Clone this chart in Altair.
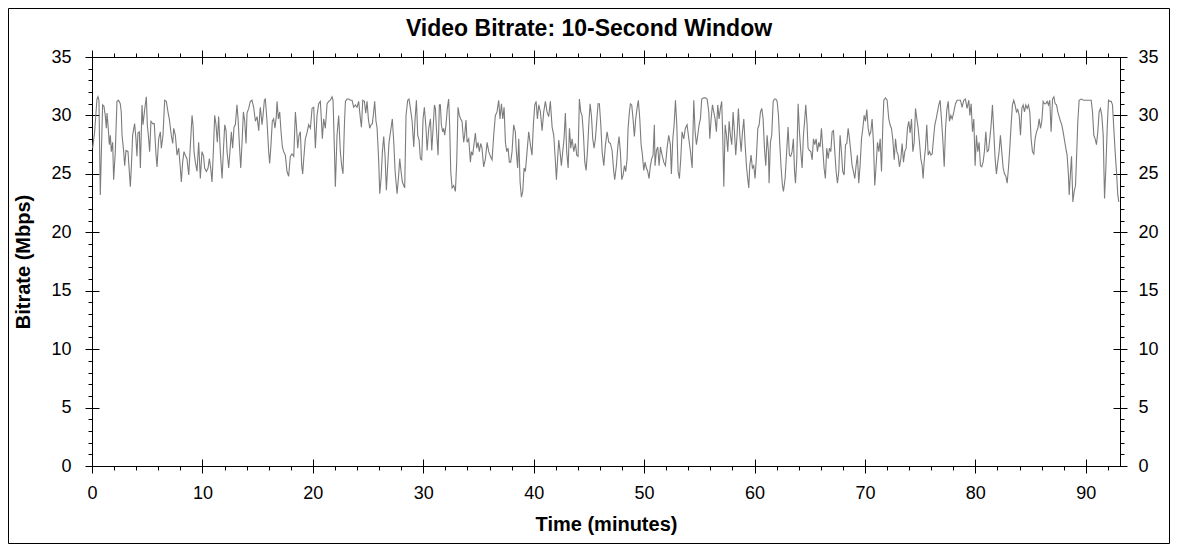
import altair as alt
import pandas as pd

# 10-second window video bitrate (time in minutes, rate in Mbps)
t_a = [0.06, 0.24, 0.45, 0.54, 0.63, 0.75, 0.96, 1.08, 1.20, 1.30,
       1.36, 1.45, 1.57, 1.66, 1.75, 1.87, 1.96, 2.11, 2.26, 2.41,
       2.56, 2.65, 2.72, 2.87, 2.96, 3.08, 3.26, 3.38, 3.47, 3.56,
       3.68, 3.86, 3.98, 4.07, 4.16, 4.29, 4.38, 4.53, 4.62, 4.77,
       4.92, 5.01, 5.13, 5.22, 5.34, 5.49, 5.64, 5.80, 5.89, 6.04,
       6.19, 6.28, 6.43, 6.58, 6.73, 6.88, 7.00, 7.18, 7.31, 7.40,
       7.55, 7.70, 7.85, 8.00, 8.09, 8.21, 8.33, 8.45, 8.60, 8.76,
       8.91, 9.06, 9.15, 9.24, 9.36, 9.51, 9.66, 9.81, 9.96, 10.11,
       10.20, 10.36, 10.51, 10.63, 10.75, 10.87, 10.99, 11.11, 11.23, 11.35,
       11.47, 11.62, 11.78, 11.90, 12.02, 12.14, 12.23, 12.38, 12.47, 12.62,
       12.74, 12.86, 12.98, 13.13, 13.23, 13.35, 13.47, 13.59, 13.71, 13.83,
       13.95, 14.04, 14.19, 14.34, 14.49, 14.64, 14.80, 14.95, 15.10, 15.22]
v_a = [27.2, 28.6, 31.4, 31.6, 31.3, 23.2, 30.9, 30.8, 30.0, 28.9,
       30.2, 29.2, 27.5, 28.3, 26.9, 27.7, 24.5, 26.9, 31.2, 31.3,
       31.0, 30.3, 28.3, 26.9, 25.7, 27.0, 26.9, 25.2, 23.9, 25.5,
       28.3, 29.3, 28.0, 26.5, 28.5, 28.6, 25.5, 30.9, 29.2, 30.5,
       31.6, 29.2, 28.0, 26.9, 29.5, 29.3, 29.3, 26.6, 25.6, 28.0,
       28.6, 27.2, 28.3, 31.3, 31.2, 30.3, 29.7, 28.3, 27.6, 28.9,
       28.3, 26.6, 27.2, 25.5, 24.3, 26.0, 26.9, 26.6, 26.3, 24.9,
       27.5, 30.0, 29.2, 26.9, 26.0, 25.2, 27.7, 24.6, 26.9, 26.5,
       25.5, 25.2, 25.5, 26.3, 25.5, 24.3, 26.9, 30.0, 29.2, 27.7,
       29.9, 26.9, 24.6, 27.0, 29.2, 28.7, 26.9, 25.5, 26.6, 28.6,
       27.2, 29.0, 29.2, 30.9, 29.7, 27.5, 25.5, 27.7, 30.3, 29.5,
       27.6, 30.2, 30.6, 31.2, 31.3, 30.7, 29.5, 29.9, 28.7, 30.5]

t_b = [15.25, 15.40, 15.49, 15.61, 15.70, 15.85, 16.00, 16.09, 16.21, 16.33,
       16.45, 16.57, 16.69, 16.76, 16.88, 17.00, 17.12, 17.24, 17.36, 17.51,
       17.66, 17.81, 17.96, 18.11, 18.27, 18.42, 18.51, 18.63, 18.75, 18.87,
       18.99, 19.08, 19.17, 19.32, 19.47, 19.62, 19.78, 19.93, 20.08, 20.23,
       20.38, 20.53, 20.68, 20.77, 20.86, 20.98, 21.13, 21.29, 21.44, 21.59,
       21.74, 21.83, 21.95, 22.04, 22.19, 22.34, 22.49, 22.61, 22.73, 22.86,
       22.95, 23.10, 23.25, 23.40, 23.55, 23.70, 23.85, 24.00, 24.15, 24.31,
       24.40, 24.52, 24.67, 24.79, 24.91, 25.03, 25.15, 25.27, 25.39, 25.51,
       25.60, 25.72, 25.82, 25.97, 26.06, 26.18, 26.30, 26.42, 26.54, 26.66,
       26.78, 26.90, 27.08, 27.20, 27.33, 27.45, 27.63, 27.75, 27.87, 27.99,
       28.11, 28.23, 28.32, 28.44, 28.59, 28.71, 28.84, 28.99, 29.14, 29.26,
       29.38, 29.50, 29.62, 29.74, 29.86, 29.98, 30.10, 30.25, 30.35, 30.50,
       30.65, 30.77, 30.89, 31.01]
v_b = [30.7, 29.2, 30.0, 31.3, 31.4, 29.5, 26.9, 25.9, 27.5, 29.5,
       29.7, 28.9, 29.9, 31.2, 29.7, 30.3, 28.6, 27.3, 26.9, 26.6,
       25.2, 24.8, 26.5, 26.7, 26.5, 30.3, 29.2, 27.2, 28.3, 28.6,
       25.7, 25.0, 26.2, 28.0, 28.5, 29.2, 28.9, 30.6, 30.7, 27.2,
       30.0, 31.0, 31.2, 29.7, 28.0, 29.7, 28.9, 31.0, 31.2, 31.3,
       31.6, 31.3, 27.2, 23.9, 28.3, 30.0, 26.9, 25.7, 25.0, 29.2,
       31.2, 31.4, 31.4, 31.3, 31.3, 30.7, 30.9, 30.7, 31.2, 29.7,
       29.0, 31.3, 31.2, 30.2, 31.2, 29.7, 28.9, 29.2, 29.3, 30.3,
       31.2, 29.5, 28.9, 26.0, 23.3, 24.6, 26.9, 28.2, 26.5, 23.6,
       25.7, 27.7, 28.9, 29.7, 27.7, 25.2, 23.3, 24.6, 26.3, 25.2,
       24.3, 24.0, 23.8, 30.0, 31.3, 31.4, 30.6, 29.5, 27.3, 29.7,
       31.3, 28.3, 27.9, 26.3, 26.2, 29.7, 30.7, 28.9, 27.0, 28.9,
       29.7, 27.0, 28.9, 30.9]

t_c = [31.10, 31.19, 31.34, 31.46, 31.55, 31.64, 31.76, 31.85, 31.94, 32.06,
       32.18, 32.30, 32.39, 32.49, 32.61, 32.76, 32.91, 33.03, 33.15, 33.27,
       33.39, 33.51, 33.66, 33.75, 33.87, 33.97, 34.12, 34.27, 34.36, 34.48,
       34.60, 34.72, 34.84, 34.96, 35.08, 35.20, 35.32, 35.47, 35.63, 35.78,
       35.93, 36.08, 36.23, 36.38, 36.53, 36.68, 36.83, 36.95, 37.08, 37.20,
       37.32, 37.44, 37.56, 37.68, 37.80, 37.92, 38.04, 38.19, 38.34, 38.43,
       38.55, 38.65, 38.77, 38.89, 39.01, 39.13, 39.25, 39.40, 39.55, 39.70,
       39.85, 39.97, 40.10, 40.22, 40.34, 40.46, 40.61, 40.76, 40.91, 41.06,
       41.21, 41.36, 41.51, 41.67, 41.82, 41.97, 42.06, 42.15, 42.27, 42.39,
       42.51, 42.63, 42.75, 42.87, 42.99, 43.12, 43.24, 43.36, 43.48, 43.63,
       43.78, 43.90, 44.02, 44.14, 44.26, 44.38, 44.50, 44.63, 44.75, 44.87,
       44.99, 45.11, 45.23, 45.35, 45.47, 45.59, 45.71, 45.83, 45.95, 46.08,
       46.20, 46.35, 46.50, 46.65, 46.80]
v_c = [30.6, 28.9, 26.6, 30.9, 30.9, 29.2, 28.6, 28.9, 28.3, 29.2,
       30.6, 31.4, 29.2, 25.2, 23.8, 24.0, 23.5, 26.0, 30.7, 30.0,
       29.7, 29.5, 27.7, 28.3, 29.6, 27.7, 28.0, 26.0, 26.9, 26.6,
       27.6, 28.5, 27.2, 27.7, 26.9, 27.6, 27.2, 25.6, 26.3, 27.7,
       26.9, 26.5, 26.2, 28.3, 30.0, 30.3, 31.3, 29.7, 31.0, 29.7,
       30.7, 27.7, 26.9, 27.2, 26.0, 26.0, 26.9, 29.2, 28.6, 26.9,
       25.5, 28.0, 24.3, 23.0, 23.5, 25.5, 25.2, 26.9, 28.6, 27.5,
       26.6, 29.2, 30.9, 31.2, 29.7, 30.9, 30.3, 28.7, 30.3, 31.2,
       30.3, 29.9, 31.2, 29.0, 28.3, 26.0, 24.5, 26.0, 27.9, 26.9,
       25.7, 26.9, 28.0, 30.2, 26.9, 25.5, 28.9, 27.2, 28.0, 26.9,
       27.6, 26.6, 26.5, 31.4, 30.3, 30.0, 28.5, 26.0, 25.3, 26.9,
       29.2, 31.0, 30.0, 28.0, 27.2, 28.0, 29.5, 31.0, 31.0, 29.2,
       26.9, 25.7, 27.5, 28.6, 27.7]

t_d = [46.95, 47.10, 47.25, 47.34, 47.49, 47.61, 47.73, 47.85, 47.98, 48.10,
       48.22, 48.34, 48.46, 48.55, 48.67, 48.76, 48.88, 49.00, 49.12, 49.24,
       49.36, 49.48, 49.61, 49.73, 49.85, 49.97, 50.09, 50.21, 50.33, 50.45,
       50.57, 50.69, 50.81, 50.93, 50.99, 51.12, 51.24, 51.36, 51.48, 51.63,
       51.78, 51.93, 52.08, 52.23, 52.38, 52.47, 52.60, 52.72, 52.84, 52.96,
       53.08, 53.20, 53.32, 53.44, 53.59, 53.74, 53.89, 54.05, 54.20, 54.35,
       54.50, 54.62, 54.74, 54.86, 54.98, 55.10, 55.22, 55.40, 55.55, 55.71,
       55.86, 55.95, 56.07, 56.19, 56.31, 56.43, 56.55, 56.67, 56.79, 56.91,
       57.03, 57.12, 57.22, 57.34, 57.46, 57.58, 57.70, 57.82, 57.94, 58.06,
       58.18, 58.30, 58.42, 58.54, 58.67, 58.79, 58.91, 59.03, 59.15, 59.27,
       59.36, 59.48, 59.57, 59.69, 59.81, 59.93, 60.05, 60.18, 60.30, 60.42,
       60.54, 60.66, 60.78, 60.90, 61.02, 61.14, 61.26, 61.32, 61.44, 61.56,
       61.69, 61.81, 61.93, 62.05, 62.17, 62.29, 62.41, 62.53, 62.62, 62.77]
v_d = [27.6, 27.0, 25.2, 24.5, 25.7, 27.2, 28.2, 26.9, 24.5, 24.9,
       25.7, 25.2, 26.3, 28.9, 30.3, 31.0, 30.9, 29.7, 28.2, 29.7,
       30.6, 31.3, 29.7, 27.5, 26.6, 25.3, 26.0, 25.5, 25.2, 24.6,
       25.7, 26.3, 26.6, 29.2, 25.7, 27.0, 27.3, 25.7, 27.3, 26.6,
       26.0, 25.7, 27.2, 28.3, 27.5, 25.0, 28.0, 29.2, 31.3, 29.2,
       25.2, 24.6, 26.3, 28.6, 28.0, 28.9, 29.2, 28.0, 26.9, 25.5,
       31.3, 28.6, 27.5, 28.3, 29.2, 29.7, 31.4, 31.5, 31.5, 31.4,
       30.3, 28.0, 29.7, 30.9, 30.3, 29.7, 28.6, 30.9, 29.7, 30.6,
       31.2, 28.3, 23.9, 29.2, 28.3, 26.9, 29.5, 28.3, 27.5, 30.3,
       28.6, 26.6, 28.3, 30.6, 28.3, 26.9, 28.6, 29.7, 27.5, 25.7,
       24.8, 23.8, 25.7, 26.6, 25.5, 25.7, 24.6, 26.6, 28.9, 29.2,
       30.3, 30.6, 29.7, 27.2, 25.7, 28.3, 26.9, 24.2, 27.7, 28.3,
       31.2, 31.4, 31.4, 31.2, 30.0, 27.5, 25.5, 24.0, 23.5, 24.6]

t_e = [63.04, 63.16, 63.28, 63.40, 63.52, 63.62, 63.71, 63.83, 63.95, 64.07,
       64.19, 64.31, 64.43, 64.55, 64.64, 64.76, 64.85, 64.97, 65.10, 65.22,
       65.34, 65.46, 65.58, 65.70, 65.82, 65.94, 66.06, 66.18, 66.30, 66.42,
       66.54, 66.67, 66.79, 66.91, 67.03, 67.15, 67.27, 67.39, 67.51, 67.63,
       67.75, 67.87, 67.99, 68.12, 68.24, 68.36, 68.48, 68.60, 68.72, 68.84,
       68.96, 69.08, 69.20, 69.32, 69.44, 69.56, 69.69, 69.81, 69.93, 70.05,
       70.17, 70.29, 70.41, 70.53, 70.65, 70.77, 70.89, 71.01, 71.14, 71.26,
       71.38, 71.50, 71.62, 71.71, 71.86, 72.01, 72.16, 72.28, 72.40, 72.52,
       72.65, 72.77, 72.89, 73.01, 73.13, 73.25, 73.37, 73.49, 73.61, 73.73,
       73.85, 73.97, 74.09, 74.22, 74.34, 74.46, 74.58, 74.70, 74.82, 74.94,
       75.06, 75.18, 75.27, 75.36, 75.48, 75.60, 75.73, 75.85, 75.97, 76.09,
       76.21, 76.33, 76.45, 76.57, 76.69, 76.81, 76.93, 77.05, 77.18, 77.30,
       77.42, 77.54, 77.66, 77.78, 77.90, 78.05, 78.20, 78.35, 78.50]
v_e = [29.0, 26.6, 26.5, 26.9, 28.0, 25.3, 24.2, 26.3, 31.0, 28.6,
       26.9, 25.5, 28.3, 29.7, 30.9, 29.2, 27.2, 27.0, 26.9, 26.2,
       28.0, 27.5, 28.0, 26.9, 27.7, 27.3, 28.9, 27.2, 25.5, 24.6,
       27.2, 26.3, 27.2, 26.9, 28.6, 28.7, 26.9, 25.2, 24.2, 25.2,
       28.3, 26.9, 25.2, 24.9, 27.5, 27.6, 28.9, 28.0, 26.9, 25.7,
       25.2, 24.6, 25.7, 26.6, 24.2, 25.7, 28.0, 28.9, 30.0, 29.5,
       30.5, 28.9, 28.3, 28.6, 29.7, 27.7, 24.0, 25.7, 27.7, 26.9,
       28.0, 25.2, 29.2, 31.3, 31.5, 31.3, 29.7, 29.2, 28.9, 28.0,
       26.2, 28.0, 26.9, 26.6, 25.6, 26.3, 27.6, 26.0, 26.9, 27.2,
       28.9, 29.5, 28.5, 29.7, 26.9, 27.7, 30.6, 29.7, 28.9, 27.7,
       26.3, 25.7, 24.6, 26.0, 27.2, 29.2, 26.6, 26.9, 26.6, 26.7,
       28.0, 29.2, 29.7, 30.3, 30.9, 31.3, 29.7, 28.0, 25.6, 28.9,
       30.5, 31.2, 29.5, 30.0, 29.7, 30.3, 31.0, 31.3, 31.3]

t_f = [78.65, 78.80, 78.95, 79.10, 79.25, 79.41, 79.50, 79.62, 79.74, 79.86,
       79.98, 80.10, 80.22, 80.34, 80.46, 80.58, 80.70, 80.82, 80.95, 81.07,
       81.19, 81.31, 81.43, 81.55, 81.67, 81.79, 81.91, 82.03, 82.15, 82.27,
       82.39, 82.52, 82.64, 82.76, 82.88, 83.00, 83.12, 83.24, 83.36, 83.48,
       83.60, 83.72, 83.84, 83.97, 84.09, 84.21, 84.33, 84.45, 84.57, 84.69,
       84.81, 84.93, 85.05, 85.17, 85.29, 85.41, 85.54, 85.66, 85.78, 85.90,
       86.02, 86.14, 86.26, 86.38, 86.50, 86.62, 86.74, 86.86, 86.99, 87.11,
       87.23, 87.35, 87.47, 87.59, 87.71, 87.83, 87.95, 88.07, 88.19, 88.31,
       88.43, 88.50, 88.62, 88.71, 88.83, 88.95, 89.07, 89.16, 89.28, 89.40,
       89.58, 89.82, 90.07, 90.31, 90.49, 90.61, 90.73, 90.85, 90.97, 91.09,
       91.21, 91.33, 91.45, 91.58, 91.70, 91.82, 91.94, 92.06, 92.18, 92.30,
       92.42, 92.54, 92.66, 92.78, 92.90, 92.99]
v_f = [31.3, 30.7, 31.3, 31.4, 30.6, 31.3, 30.0, 31.0, 28.6, 29.7,
       25.7, 28.3, 26.9, 27.7, 25.7, 25.6, 26.0, 26.9, 28.6, 26.9,
       27.0, 28.0, 29.2, 30.9, 28.6, 26.3, 25.0, 26.0, 26.9, 28.3,
       26.9, 25.5, 25.0, 24.8, 24.2, 25.5, 27.2, 29.2, 30.9, 31.3,
       30.9, 30.3, 30.5, 30.0, 28.3, 30.6, 30.9, 30.3, 30.9, 30.6,
       30.9, 30.3, 28.0, 26.9, 26.7, 28.0, 28.6, 28.9, 29.7, 28.9,
       29.5, 31.2, 31.0, 31.0, 31.2, 30.9, 31.3, 28.6, 31.4, 31.6,
       31.0, 30.9, 30.3, 29.9, 29.5, 29.2, 28.6, 27.9, 27.2, 26.6,
       24.9, 23.2, 25.2, 26.5, 22.6, 23.5, 24.0, 26.3, 29.5, 31.3,
       31.4, 31.3, 31.3, 31.3, 31.3, 30.3, 28.3, 28.0, 27.5, 28.6,
       30.3, 30.6, 30.0, 28.3, 22.9, 25.5, 28.9, 31.3, 31.2, 31.2,
       30.9, 28.9, 26.9, 25.2, 23.2, 22.6]

major_x = list(range(0, 100, 10))
minor_x = list(range(0, 94, 2))
major_y = list(range(0, 40, 5))
minor_y = list(range(0, 36))

data = pd.DataFrame({
    'minutes': t_a + t_b + t_c + t_d + t_e + t_f,
    'mbps': v_a + v_b + v_c + v_d + v_e + v_f,
})

x_scale = alt.Scale(domain=[0, 93.1], nice=False, zero=False)
y_scale = alt.Scale(domain=[0, 35], nice=False)

# visible trace, bottom/left labelled axes (major ticks cross the frame)
main = alt.Chart(data).mark_line(color='#7c7c7c', strokeWidth=1.1).encode(
    x=alt.X('minutes:Q', scale=x_scale,
            axis=alt.Axis(orient='bottom', values=major_x, tickSize=14, offset=-7,
                          labelPadding=11, title='Time (minutes)', titlePadding=12)),
    y=alt.Y('mbps:Q', scale=y_scale,
            axis=alt.Axis(orient='left', values=major_y, tickSize=14, offset=-7,
                          labelPadding=14, title='Bitrate (Mbps)', titlePadding=17)),
)

# invisible copies that only carry the extra axes
ghost = alt.Chart(data).mark_line(strokeOpacity=0)

minor_bl = ghost.encode(
    x=alt.X('minutes:Q', scale=x_scale,
            axis=alt.Axis(orient='bottom', values=minor_x, tickSize=4, labels=False, title=None)),
    y=alt.Y('mbps:Q', scale=y_scale,
            axis=alt.Axis(orient='left', values=minor_y, tickSize=4, labels=False, title=None)),
)
major_tr = ghost.encode(
    x=alt.X('minutes:Q', scale=x_scale,
            axis=alt.Axis(orient='top', values=major_x, tickSize=14, offset=-7,
                          labels=False, title=None)),
    y=alt.Y('mbps:Q', scale=y_scale,
            axis=alt.Axis(orient='right', values=major_y, tickSize=14, offset=-7,
                          labelPadding=11, title=None)),
)
minor_tr = ghost.encode(
    x=alt.X('minutes:Q', scale=x_scale,
            axis=alt.Axis(orient='top', values=minor_x, tickSize=4, labels=False, title=None)),
    y=alt.Y('mbps:Q', scale=y_scale,
            axis=alt.Axis(orient='right', values=minor_y, tickSize=4, labels=False, title=None)),
)

# thin outer frame round the whole picture
frame = alt.Chart(pd.DataFrame({'k': [0]})).mark_rect(
    filled=False, stroke='black', strokeWidth=1
).encode(x=alt.value(-83.5), x2=alt.value(1077.5), y=alt.value(-48.5), y2=alt.value(486.5))

chart = alt.layer(frame, main, minor_bl, major_tr, minor_tr).resolve_axis(
    x='independent', y='independent'
).properties(
    width=1028,
    height=409,
    autosize=alt.AutoSizeParams(type='none'),
    padding={'left': 84, 'top': 49, 'right': 50, 'bottom': 78},
    title=alt.TitleParams('Video Bitrate: 10-Second Window', font='Liberation Sans',
                          fontSize=23, fontWeight='bold', color='black',
                          anchor='middle', frame='bounds', offset=-33),
).configure_view(
    stroke='black', strokeWidth=1
).configure_axis(
    labelFont='Liberation Sans', labelFontSize=18, labelColor='black', labelFlush=False,
    titleFont='Liberation Sans', titleFontSize=20, titleFontWeight='bold', titleColor='black',
    tickColor='black', tickWidth=1, domain=False, grid=False
)

chart.save('out.html', embed_options={'renderer': 'svg', 'actions': False})
